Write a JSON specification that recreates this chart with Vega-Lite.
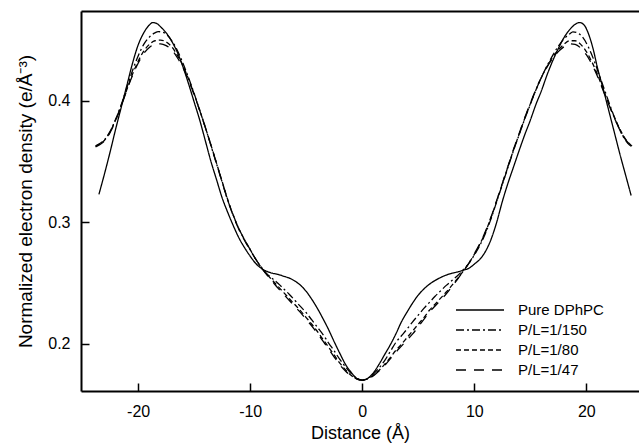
{
  "$schema": "https://vega.github.io/schema/vega-lite/v6.json",
  "width": 558,
  "height": 380,
  "autosize": {"type": "none"},
  "padding": {"left": 81, "top": 11, "right": 0, "bottom": 53},
  "background": "white",
  "config": {
    "view": {"stroke": null},
    "font": "Liberation Sans",
    "axis": {
      "grid": false,
      "domainColor": "black",
      "domainWidth": 2,
      "tickColor": "black",
      "tickWidth": 1.5,
      "tickSize": -8,
      "labelFont": "Liberation Sans",
      "labelFontSize": 16,
      "labelColor": "black",
      "titleFont": "Liberation Sans",
      "titleFontSize": 18,
      "titleFontWeight": "normal",
      "titleColor": "black"
    },
    "legend": {
      "labelFont": "Liberation Sans",
      "labelFontSize": 15,
      "labelColor": "black"
    }
  },
  "datasets": {
    "profiles": [
      {"s": "Pure DPhPC", "d": -23.5, "v": 0.323},
      {"s": "Pure DPhPC", "d": -23, "v": 0.340},
      {"s": "Pure DPhPC", "d": -22.5, "v": 0.358},
      {"s": "Pure DPhPC", "d": -22, "v": 0.377},
      {"s": "Pure DPhPC", "d": -21.5, "v": 0.395},
      {"s": "Pure DPhPC", "d": -21, "v": 0.413},
      {"s": "Pure DPhPC", "d": -20.5, "v": 0.431},
      {"s": "Pure DPhPC", "d": -20, "v": 0.446},
      {"s": "Pure DPhPC", "d": -19.5, "v": 0.456},
      {"s": "Pure DPhPC", "d": -19, "v": 0.4625},
      {"s": "Pure DPhPC", "d": -18.7, "v": 0.4645},
      {"s": "Pure DPhPC", "d": -18.3, "v": 0.4635},
      {"s": "Pure DPhPC", "d": -18, "v": 0.461},
      {"s": "Pure DPhPC", "d": -17.5, "v": 0.456},
      {"s": "Pure DPhPC", "d": -17, "v": 0.449},
      {"s": "Pure DPhPC", "d": -16.5, "v": 0.440},
      {"s": "Pure DPhPC", "d": -16, "v": 0.428},
      {"s": "Pure DPhPC", "d": -15.5, "v": 0.414},
      {"s": "Pure DPhPC", "d": -15, "v": 0.399},
      {"s": "Pure DPhPC", "d": -14.5, "v": 0.384},
      {"s": "Pure DPhPC", "d": -14, "v": 0.367},
      {"s": "Pure DPhPC", "d": -13.5, "v": 0.350},
      {"s": "Pure DPhPC", "d": -13, "v": 0.335},
      {"s": "Pure DPhPC", "d": -12.5, "v": 0.320},
      {"s": "Pure DPhPC", "d": -12, "v": 0.308},
      {"s": "Pure DPhPC", "d": -11.5, "v": 0.297},
      {"s": "Pure DPhPC", "d": -11, "v": 0.287},
      {"s": "Pure DPhPC", "d": -10.5, "v": 0.279},
      {"s": "Pure DPhPC", "d": -10, "v": 0.272},
      {"s": "Pure DPhPC", "d": -9.5, "v": 0.266},
      {"s": "Pure DPhPC", "d": -9, "v": 0.262},
      {"s": "Pure DPhPC", "d": -8.5, "v": 0.2595},
      {"s": "Pure DPhPC", "d": -8, "v": 0.258},
      {"s": "Pure DPhPC", "d": -7.5, "v": 0.257},
      {"s": "Pure DPhPC", "d": -7, "v": 0.2555},
      {"s": "Pure DPhPC", "d": -6.5, "v": 0.254},
      {"s": "Pure DPhPC", "d": -6, "v": 0.2515},
      {"s": "Pure DPhPC", "d": -5.5, "v": 0.248},
      {"s": "Pure DPhPC", "d": -5, "v": 0.243},
      {"s": "Pure DPhPC", "d": -4.5, "v": 0.2365},
      {"s": "Pure DPhPC", "d": -4, "v": 0.229},
      {"s": "Pure DPhPC", "d": -3.5, "v": 0.2205},
      {"s": "Pure DPhPC", "d": -3, "v": 0.2115},
      {"s": "Pure DPhPC", "d": -2.5, "v": 0.2015},
      {"s": "Pure DPhPC", "d": -2, "v": 0.192},
      {"s": "Pure DPhPC", "d": -1.5, "v": 0.183},
      {"s": "Pure DPhPC", "d": -1, "v": 0.1765},
      {"s": "Pure DPhPC", "d": -0.5, "v": 0.1715},
      {"s": "Pure DPhPC", "d": 0, "v": 0.170},
      {"s": "Pure DPhPC", "d": 0.5, "v": 0.1715},
      {"s": "Pure DPhPC", "d": 1, "v": 0.176},
      {"s": "Pure DPhPC", "d": 1.5, "v": 0.183},
      {"s": "Pure DPhPC", "d": 2, "v": 0.191},
      {"s": "Pure DPhPC", "d": 2.5, "v": 0.199},
      {"s": "Pure DPhPC", "d": 3, "v": 0.208},
      {"s": "Pure DPhPC", "d": 3.5, "v": 0.218},
      {"s": "Pure DPhPC", "d": 4, "v": 0.226},
      {"s": "Pure DPhPC", "d": 4.5, "v": 0.2335},
      {"s": "Pure DPhPC", "d": 5, "v": 0.240},
      {"s": "Pure DPhPC", "d": 5.5, "v": 0.245},
      {"s": "Pure DPhPC", "d": 6, "v": 0.249},
      {"s": "Pure DPhPC", "d": 6.5, "v": 0.252},
      {"s": "Pure DPhPC", "d": 7, "v": 0.2545},
      {"s": "Pure DPhPC", "d": 7.5, "v": 0.2565},
      {"s": "Pure DPhPC", "d": 8, "v": 0.258},
      {"s": "Pure DPhPC", "d": 8.5, "v": 0.259},
      {"s": "Pure DPhPC", "d": 9, "v": 0.2605},
      {"s": "Pure DPhPC", "d": 9.5, "v": 0.262},
      {"s": "Pure DPhPC", "d": 10, "v": 0.2655},
      {"s": "Pure DPhPC", "d": 10.5, "v": 0.2695},
      {"s": "Pure DPhPC", "d": 11, "v": 0.276},
      {"s": "Pure DPhPC", "d": 11.5, "v": 0.286},
      {"s": "Pure DPhPC", "d": 12, "v": 0.300},
      {"s": "Pure DPhPC", "d": 12.5, "v": 0.317},
      {"s": "Pure DPhPC", "d": 13, "v": 0.332},
      {"s": "Pure DPhPC", "d": 13.5, "v": 0.3455},
      {"s": "Pure DPhPC", "d": 14, "v": 0.359},
      {"s": "Pure DPhPC", "d": 14.5, "v": 0.372},
      {"s": "Pure DPhPC", "d": 15, "v": 0.384},
      {"s": "Pure DPhPC", "d": 15.5, "v": 0.397},
      {"s": "Pure DPhPC", "d": 16, "v": 0.4085},
      {"s": "Pure DPhPC", "d": 16.5, "v": 0.4215},
      {"s": "Pure DPhPC", "d": 17, "v": 0.433},
      {"s": "Pure DPhPC", "d": 17.5, "v": 0.443},
      {"s": "Pure DPhPC", "d": 18, "v": 0.452},
      {"s": "Pure DPhPC", "d": 18.5, "v": 0.4585},
      {"s": "Pure DPhPC", "d": 19, "v": 0.463},
      {"s": "Pure DPhPC", "d": 19.4, "v": 0.4645},
      {"s": "Pure DPhPC", "d": 19.8, "v": 0.4625},
      {"s": "Pure DPhPC", "d": 20.2, "v": 0.455},
      {"s": "Pure DPhPC", "d": 20.6, "v": 0.443},
      {"s": "Pure DPhPC", "d": 21, "v": 0.427},
      {"s": "Pure DPhPC", "d": 21.5, "v": 0.410},
      {"s": "Pure DPhPC", "d": 22, "v": 0.392},
      {"s": "Pure DPhPC", "d": 22.5, "v": 0.374},
      {"s": "Pure DPhPC", "d": 23, "v": 0.356},
      {"s": "Pure DPhPC", "d": 23.5, "v": 0.339},
      {"s": "Pure DPhPC", "d": 24, "v": 0.322},

      {"s": "P/L=1/150", "d": -23.8, "v": 0.363},
      {"s": "P/L=1/150", "d": -23.5, "v": 0.3645},
      {"s": "P/L=1/150", "d": -23, "v": 0.368},
      {"s": "P/L=1/150", "d": -22.5, "v": 0.375},
      {"s": "P/L=1/150", "d": -22, "v": 0.385},
      {"s": "P/L=1/150", "d": -21.5, "v": 0.397},
      {"s": "P/L=1/150", "d": -21, "v": 0.411},
      {"s": "P/L=1/150", "d": -20.5, "v": 0.425},
      {"s": "P/L=1/150", "d": -20, "v": 0.437},
      {"s": "P/L=1/150", "d": -19.5, "v": 0.4465},
      {"s": "P/L=1/150", "d": -19, "v": 0.4525},
      {"s": "P/L=1/150", "d": -18.5, "v": 0.456},
      {"s": "P/L=1/150", "d": -18.2, "v": 0.457},
      {"s": "P/L=1/150", "d": -17.8, "v": 0.4565},
      {"s": "P/L=1/150", "d": -17.5, "v": 0.455},
      {"s": "P/L=1/150", "d": -17, "v": 0.4495},
      {"s": "P/L=1/150", "d": -16.5, "v": 0.4415},
      {"s": "P/L=1/150", "d": -16, "v": 0.431},
      {"s": "P/L=1/150", "d": -15.5, "v": 0.419},
      {"s": "P/L=1/150", "d": -15, "v": 0.406},
      {"s": "P/L=1/150", "d": -14.5, "v": 0.392},
      {"s": "P/L=1/150", "d": -14, "v": 0.378},
      {"s": "P/L=1/150", "d": -13.5, "v": 0.363},
      {"s": "P/L=1/150", "d": -13, "v": 0.348},
      {"s": "P/L=1/150", "d": -12.5, "v": 0.333},
      {"s": "P/L=1/150", "d": -12, "v": 0.318},
      {"s": "P/L=1/150", "d": -11.5, "v": 0.3055},
      {"s": "P/L=1/150", "d": -11, "v": 0.2945},
      {"s": "P/L=1/150", "d": -10.5, "v": 0.2855},
      {"s": "P/L=1/150", "d": -10, "v": 0.2775},
      {"s": "P/L=1/150", "d": -9.5, "v": 0.2695},
      {"s": "P/L=1/150", "d": -9, "v": 0.263},
      {"s": "P/L=1/150", "d": -8.5, "v": 0.2575},
      {"s": "P/L=1/150", "d": -8, "v": 0.2535},
      {"s": "P/L=1/150", "d": -7.5, "v": 0.2495},
      {"s": "P/L=1/150", "d": -7, "v": 0.245},
      {"s": "P/L=1/150", "d": -6.5, "v": 0.2405},
      {"s": "P/L=1/150", "d": -6, "v": 0.2355},
      {"s": "P/L=1/150", "d": -5.5, "v": 0.2305},
      {"s": "P/L=1/150", "d": -5, "v": 0.2255},
      {"s": "P/L=1/150", "d": -4.5, "v": 0.2195},
      {"s": "P/L=1/150", "d": -4, "v": 0.2135},
      {"s": "P/L=1/150", "d": -3.5, "v": 0.2075},
      {"s": "P/L=1/150", "d": -3, "v": 0.2005},
      {"s": "P/L=1/150", "d": -2.5, "v": 0.194},
      {"s": "P/L=1/150", "d": -2, "v": 0.187},
      {"s": "P/L=1/150", "d": -1.5, "v": 0.181},
      {"s": "P/L=1/150", "d": -1, "v": 0.1755},
      {"s": "P/L=1/150", "d": -0.5, "v": 0.1715},
      {"s": "P/L=1/150", "d": 0, "v": 0.170},
      {"s": "P/L=1/150", "d": 0.5, "v": 0.1715},
      {"s": "P/L=1/150", "d": 1, "v": 0.175},
      {"s": "P/L=1/150", "d": 1.5, "v": 0.180},
      {"s": "P/L=1/150", "d": 2, "v": 0.186},
      {"s": "P/L=1/150", "d": 2.5, "v": 0.1935},
      {"s": "P/L=1/150", "d": 3, "v": 0.201},
      {"s": "P/L=1/150", "d": 3.5, "v": 0.2065},
      {"s": "P/L=1/150", "d": 4, "v": 0.212},
      {"s": "P/L=1/150", "d": 4.5, "v": 0.218},
      {"s": "P/L=1/150", "d": 5, "v": 0.2235},
      {"s": "P/L=1/150", "d": 5.5, "v": 0.229},
      {"s": "P/L=1/150", "d": 6, "v": 0.234},
      {"s": "P/L=1/150", "d": 6.5, "v": 0.239},
      {"s": "P/L=1/150", "d": 7, "v": 0.2435},
      {"s": "P/L=1/150", "d": 7.5, "v": 0.248},
      {"s": "P/L=1/150", "d": 8, "v": 0.252},
      {"s": "P/L=1/150", "d": 8.5, "v": 0.256},
      {"s": "P/L=1/150", "d": 9, "v": 0.2605},
      {"s": "P/L=1/150", "d": 9.5, "v": 0.266},
      {"s": "P/L=1/150", "d": 10, "v": 0.273},
      {"s": "P/L=1/150", "d": 10.5, "v": 0.281},
      {"s": "P/L=1/150", "d": 11, "v": 0.291},
      {"s": "P/L=1/150", "d": 11.5, "v": 0.303},
      {"s": "P/L=1/150", "d": 12, "v": 0.317},
      {"s": "P/L=1/150", "d": 12.5, "v": 0.331},
      {"s": "P/L=1/150", "d": 13, "v": 0.345},
      {"s": "P/L=1/150", "d": 13.5, "v": 0.359},
      {"s": "P/L=1/150", "d": 14, "v": 0.372},
      {"s": "P/L=1/150", "d": 14.5, "v": 0.385},
      {"s": "P/L=1/150", "d": 15, "v": 0.397},
      {"s": "P/L=1/150", "d": 15.5, "v": 0.409},
      {"s": "P/L=1/150", "d": 16, "v": 0.4195},
      {"s": "P/L=1/150", "d": 16.5, "v": 0.429},
      {"s": "P/L=1/150", "d": 17, "v": 0.4375},
      {"s": "P/L=1/150", "d": 17.5, "v": 0.445},
      {"s": "P/L=1/150", "d": 18, "v": 0.451},
      {"s": "P/L=1/150", "d": 18.5, "v": 0.455},
      {"s": "P/L=1/150", "d": 18.8, "v": 0.4568},
      {"s": "P/L=1/150", "d": 19.2, "v": 0.456},
      {"s": "P/L=1/150", "d": 19.7, "v": 0.452},
      {"s": "P/L=1/150", "d": 20.2, "v": 0.444},
      {"s": "P/L=1/150", "d": 20.7, "v": 0.433},
      {"s": "P/L=1/150", "d": 21.2, "v": 0.420},
      {"s": "P/L=1/150", "d": 21.7, "v": 0.407},
      {"s": "P/L=1/150", "d": 22.2, "v": 0.394},
      {"s": "P/L=1/150", "d": 22.7, "v": 0.382},
      {"s": "P/L=1/150", "d": 23.2, "v": 0.372},
      {"s": "P/L=1/150", "d": 23.7, "v": 0.365},
      {"s": "P/L=1/150", "d": 24.1, "v": 0.362},

      {"s": "P/L=1/80", "d": -23.8, "v": 0.3625},
      {"s": "P/L=1/80", "d": -23.5, "v": 0.364},
      {"s": "P/L=1/80", "d": -23, "v": 0.3675},
      {"s": "P/L=1/80", "d": -22.5, "v": 0.3745},
      {"s": "P/L=1/80", "d": -22, "v": 0.3845},
      {"s": "P/L=1/80", "d": -21.5, "v": 0.3965},
      {"s": "P/L=1/80", "d": -21, "v": 0.4095},
      {"s": "P/L=1/80", "d": -20.5, "v": 0.422},
      {"s": "P/L=1/80", "d": -20, "v": 0.4325},
      {"s": "P/L=1/80", "d": -19.5, "v": 0.441},
      {"s": "P/L=1/80", "d": -19, "v": 0.4465},
      {"s": "P/L=1/80", "d": -18.5, "v": 0.4495},
      {"s": "P/L=1/80", "d": -18, "v": 0.450},
      {"s": "P/L=1/80", "d": -17.5, "v": 0.4485},
      {"s": "P/L=1/80", "d": -17, "v": 0.4445},
      {"s": "P/L=1/80", "d": -16.5, "v": 0.4375},
      {"s": "P/L=1/80", "d": -16, "v": 0.429},
      {"s": "P/L=1/80", "d": -15.5, "v": 0.418},
      {"s": "P/L=1/80", "d": -15, "v": 0.4055},
      {"s": "P/L=1/80", "d": -14.5, "v": 0.392},
      {"s": "P/L=1/80", "d": -14, "v": 0.378},
      {"s": "P/L=1/80", "d": -13.5, "v": 0.3635},
      {"s": "P/L=1/80", "d": -13, "v": 0.3485},
      {"s": "P/L=1/80", "d": -12.5, "v": 0.3335},
      {"s": "P/L=1/80", "d": -12, "v": 0.3185},
      {"s": "P/L=1/80", "d": -11.5, "v": 0.3055},
      {"s": "P/L=1/80", "d": -11, "v": 0.2945},
      {"s": "P/L=1/80", "d": -10.5, "v": 0.2855},
      {"s": "P/L=1/80", "d": -10, "v": 0.2775},
      {"s": "P/L=1/80", "d": -9.5, "v": 0.2695},
      {"s": "P/L=1/80", "d": -9, "v": 0.2625},
      {"s": "P/L=1/80", "d": -8.5, "v": 0.257},
      {"s": "P/L=1/80", "d": -8, "v": 0.252},
      {"s": "P/L=1/80", "d": -7.5, "v": 0.247},
      {"s": "P/L=1/80", "d": -7, "v": 0.242},
      {"s": "P/L=1/80", "d": -6.5, "v": 0.237},
      {"s": "P/L=1/80", "d": -6, "v": 0.232},
      {"s": "P/L=1/80", "d": -5.5, "v": 0.227},
      {"s": "P/L=1/80", "d": -5, "v": 0.2215},
      {"s": "P/L=1/80", "d": -4.5, "v": 0.216},
      {"s": "P/L=1/80", "d": -4, "v": 0.210},
      {"s": "P/L=1/80", "d": -3.5, "v": 0.2035},
      {"s": "P/L=1/80", "d": -3, "v": 0.197},
      {"s": "P/L=1/80", "d": -2.5, "v": 0.1905},
      {"s": "P/L=1/80", "d": -2, "v": 0.184},
      {"s": "P/L=1/80", "d": -1.5, "v": 0.1785},
      {"s": "P/L=1/80", "d": -1, "v": 0.174},
      {"s": "P/L=1/80", "d": -0.5, "v": 0.171},
      {"s": "P/L=1/80", "d": 0, "v": 0.170},
      {"s": "P/L=1/80", "d": 0.5, "v": 0.171},
      {"s": "P/L=1/80", "d": 1, "v": 0.174},
      {"s": "P/L=1/80", "d": 1.5, "v": 0.178},
      {"s": "P/L=1/80", "d": 2, "v": 0.183},
      {"s": "P/L=1/80", "d": 2.5, "v": 0.1885},
      {"s": "P/L=1/80", "d": 3, "v": 0.1945},
      {"s": "P/L=1/80", "d": 3.5, "v": 0.1995},
      {"s": "P/L=1/80", "d": 4, "v": 0.205},
      {"s": "P/L=1/80", "d": 4.5, "v": 0.2105},
      {"s": "P/L=1/80", "d": 5, "v": 0.216},
      {"s": "P/L=1/80", "d": 5.5, "v": 0.2215},
      {"s": "P/L=1/80", "d": 6, "v": 0.2275},
      {"s": "P/L=1/80", "d": 6.5, "v": 0.2325},
      {"s": "P/L=1/80", "d": 7, "v": 0.2375},
      {"s": "P/L=1/80", "d": 7.5, "v": 0.2425},
      {"s": "P/L=1/80", "d": 8, "v": 0.248},
      {"s": "P/L=1/80", "d": 8.5, "v": 0.2535},
      {"s": "P/L=1/80", "d": 9, "v": 0.2595},
      {"s": "P/L=1/80", "d": 9.5, "v": 0.266},
      {"s": "P/L=1/80", "d": 10, "v": 0.2735},
      {"s": "P/L=1/80", "d": 10.5, "v": 0.282},
      {"s": "P/L=1/80", "d": 11, "v": 0.292},
      {"s": "P/L=1/80", "d": 11.5, "v": 0.304},
      {"s": "P/L=1/80", "d": 12, "v": 0.3175},
      {"s": "P/L=1/80", "d": 12.5, "v": 0.3315},
      {"s": "P/L=1/80", "d": 13, "v": 0.3455},
      {"s": "P/L=1/80", "d": 13.5, "v": 0.3595},
      {"s": "P/L=1/80", "d": 14, "v": 0.3725},
      {"s": "P/L=1/80", "d": 14.5, "v": 0.3855},
      {"s": "P/L=1/80", "d": 15, "v": 0.3975},
      {"s": "P/L=1/80", "d": 15.5, "v": 0.409},
      {"s": "P/L=1/80", "d": 16, "v": 0.4195},
      {"s": "P/L=1/80", "d": 16.5, "v": 0.4285},
      {"s": "P/L=1/80", "d": 17, "v": 0.436},
      {"s": "P/L=1/80", "d": 17.5, "v": 0.442},
      {"s": "P/L=1/80", "d": 18, "v": 0.4465},
      {"s": "P/L=1/80", "d": 18.5, "v": 0.4495},
      {"s": "P/L=1/80", "d": 19, "v": 0.4495},
      {"s": "P/L=1/80", "d": 19.5, "v": 0.4465},
      {"s": "P/L=1/80", "d": 20, "v": 0.4405},
      {"s": "P/L=1/80", "d": 20.5, "v": 0.432},
      {"s": "P/L=1/80", "d": 21, "v": 0.4215},
      {"s": "P/L=1/80", "d": 21.5, "v": 0.4095},
      {"s": "P/L=1/80", "d": 22, "v": 0.3975},
      {"s": "P/L=1/80", "d": 22.5, "v": 0.3865},
      {"s": "P/L=1/80", "d": 23, "v": 0.3765},
      {"s": "P/L=1/80", "d": 23.5, "v": 0.3685},
      {"s": "P/L=1/80", "d": 24.1, "v": 0.3625},

      {"s": "P/L=1/47", "d": -23.8, "v": 0.362},
      {"s": "P/L=1/47", "d": -23.5, "v": 0.3635},
      {"s": "P/L=1/47", "d": -23, "v": 0.367},
      {"s": "P/L=1/47", "d": -22.5, "v": 0.374},
      {"s": "P/L=1/47", "d": -22, "v": 0.384},
      {"s": "P/L=1/47", "d": -21.5, "v": 0.396},
      {"s": "P/L=1/47", "d": -21, "v": 0.409},
      {"s": "P/L=1/47", "d": -20.5, "v": 0.421},
      {"s": "P/L=1/47", "d": -20, "v": 0.431},
      {"s": "P/L=1/47", "d": -19.5, "v": 0.439},
      {"s": "P/L=1/47", "d": -19, "v": 0.444},
      {"s": "P/L=1/47", "d": -18.5, "v": 0.4465},
      {"s": "P/L=1/47", "d": -18, "v": 0.447},
      {"s": "P/L=1/47", "d": -17.5, "v": 0.4455},
      {"s": "P/L=1/47", "d": -17, "v": 0.442},
      {"s": "P/L=1/47", "d": -16.5, "v": 0.4355},
      {"s": "P/L=1/47", "d": -16, "v": 0.4275},
      {"s": "P/L=1/47", "d": -15.5, "v": 0.417},
      {"s": "P/L=1/47", "d": -15, "v": 0.405},
      {"s": "P/L=1/47", "d": -14.5, "v": 0.392},
      {"s": "P/L=1/47", "d": -14, "v": 0.378},
      {"s": "P/L=1/47", "d": -13.5, "v": 0.3635},
      {"s": "P/L=1/47", "d": -13, "v": 0.3485},
      {"s": "P/L=1/47", "d": -12.5, "v": 0.333},
      {"s": "P/L=1/47", "d": -12, "v": 0.318},
      {"s": "P/L=1/47", "d": -11.5, "v": 0.305},
      {"s": "P/L=1/47", "d": -11, "v": 0.294},
      {"s": "P/L=1/47", "d": -10.5, "v": 0.285},
      {"s": "P/L=1/47", "d": -10, "v": 0.277},
      {"s": "P/L=1/47", "d": -9.5, "v": 0.2695},
      {"s": "P/L=1/47", "d": -9, "v": 0.2625},
      {"s": "P/L=1/47", "d": -8.5, "v": 0.2565},
      {"s": "P/L=1/47", "d": -8, "v": 0.251},
      {"s": "P/L=1/47", "d": -7.5, "v": 0.2455},
      {"s": "P/L=1/47", "d": -7, "v": 0.2405},
      {"s": "P/L=1/47", "d": -6.5, "v": 0.2355},
      {"s": "P/L=1/47", "d": -6, "v": 0.2305},
      {"s": "P/L=1/47", "d": -5.5, "v": 0.2255},
      {"s": "P/L=1/47", "d": -5, "v": 0.220},
      {"s": "P/L=1/47", "d": -4.5, "v": 0.2145},
      {"s": "P/L=1/47", "d": -4, "v": 0.2085},
      {"s": "P/L=1/47", "d": -3.5, "v": 0.202},
      {"s": "P/L=1/47", "d": -3, "v": 0.1955},
      {"s": "P/L=1/47", "d": -2.5, "v": 0.189},
      {"s": "P/L=1/47", "d": -2, "v": 0.1825},
      {"s": "P/L=1/47", "d": -1.5, "v": 0.1775},
      {"s": "P/L=1/47", "d": -1, "v": 0.1735},
      {"s": "P/L=1/47", "d": -0.5, "v": 0.171},
      {"s": "P/L=1/47", "d": 0, "v": 0.170},
      {"s": "P/L=1/47", "d": 0.5, "v": 0.171},
      {"s": "P/L=1/47", "d": 1, "v": 0.1735},
      {"s": "P/L=1/47", "d": 1.5, "v": 0.1775},
      {"s": "P/L=1/47", "d": 2, "v": 0.182},
      {"s": "P/L=1/47", "d": 2.5, "v": 0.1875},
      {"s": "P/L=1/47", "d": 3, "v": 0.193},
      {"s": "P/L=1/47", "d": 3.5, "v": 0.198},
      {"s": "P/L=1/47", "d": 4, "v": 0.203},
      {"s": "P/L=1/47", "d": 4.5, "v": 0.208},
      {"s": "P/L=1/47", "d": 5, "v": 0.214},
      {"s": "P/L=1/47", "d": 5.5, "v": 0.220},
      {"s": "P/L=1/47", "d": 6, "v": 0.226},
      {"s": "P/L=1/47", "d": 6.5, "v": 0.231},
      {"s": "P/L=1/47", "d": 7, "v": 0.236},
      {"s": "P/L=1/47", "d": 7.5, "v": 0.241},
      {"s": "P/L=1/47", "d": 8, "v": 0.247},
      {"s": "P/L=1/47", "d": 8.5, "v": 0.253},
      {"s": "P/L=1/47", "d": 9, "v": 0.2595},
      {"s": "P/L=1/47", "d": 9.5, "v": 0.266},
      {"s": "P/L=1/47", "d": 10, "v": 0.274},
      {"s": "P/L=1/47", "d": 10.5, "v": 0.2825},
      {"s": "P/L=1/47", "d": 11, "v": 0.2925},
      {"s": "P/L=1/47", "d": 11.5, "v": 0.3045},
      {"s": "P/L=1/47", "d": 12, "v": 0.318},
      {"s": "P/L=1/47", "d": 12.5, "v": 0.332},
      {"s": "P/L=1/47", "d": 13, "v": 0.346},
      {"s": "P/L=1/47", "d": 13.5, "v": 0.360},
      {"s": "P/L=1/47", "d": 14, "v": 0.373},
      {"s": "P/L=1/47", "d": 14.5, "v": 0.386},
      {"s": "P/L=1/47", "d": 15, "v": 0.398},
      {"s": "P/L=1/47", "d": 15.5, "v": 0.4095},
      {"s": "P/L=1/47", "d": 16, "v": 0.4195},
      {"s": "P/L=1/47", "d": 16.5, "v": 0.428},
      {"s": "P/L=1/47", "d": 17, "v": 0.435},
      {"s": "P/L=1/47", "d": 17.5, "v": 0.4405},
      {"s": "P/L=1/47", "d": 18, "v": 0.4445},
      {"s": "P/L=1/47", "d": 18.5, "v": 0.447},
      {"s": "P/L=1/47", "d": 19, "v": 0.4465},
      {"s": "P/L=1/47", "d": 19.5, "v": 0.4435},
      {"s": "P/L=1/47", "d": 20, "v": 0.438},
      {"s": "P/L=1/47", "d": 20.5, "v": 0.430},
      {"s": "P/L=1/47", "d": 21, "v": 0.420},
      {"s": "P/L=1/47", "d": 21.5, "v": 0.4085},
      {"s": "P/L=1/47", "d": 22, "v": 0.397},
      {"s": "P/L=1/47", "d": 22.5, "v": 0.386},
      {"s": "P/L=1/47", "d": 23, "v": 0.376},
      {"s": "P/L=1/47", "d": 23.5, "v": 0.368},
      {"s": "P/L=1/47", "d": 24.1, "v": 0.3625}
    ]
  },
  "data": {"name": "profiles"},
  "layer": [
    {
      "mark": {"type": "line", "color": "black", "strokeWidth": 1.3, "interpolate": "monotone"},
      "encoding": {
        "x": {
          "field": "d", "type": "quantitative",
          "scale": {"domain": [-25.1, 24.7], "nice": false, "zero": false},
          "axis": {"values": [-20, -10, 0, 10, 20], "labelExpr": "'' + datum.value", "title": "Distance (Å)", "labelPadding": 20, "titlePadding": 5}
        },
        "y": {
          "field": "v", "type": "quantitative",
          "scale": {"domain": [0.161, 0.474], "nice": false, "zero": false},
          "axis": {"values": [0.2, 0.3, 0.4], "format": ".1f", "title": "Normalized electron density (e/Å⁻³)", "titleFontSize": 19, "labelPadding": 19, "titlePadding": 12}
        },
        "strokeDash": {
          "field": "s", "type": "nominal",
          "scale": {
            "domain": ["Pure DPhPC", "P/L=1/150", "P/L=1/80", "P/L=1/47"],
            "range": [[1, 0], [8, 3, 2, 3], [5, 3], [10, 8]]
          },
          "legend": {
            "title": null,
            "orient": "none",
            "legendX": 390,
            "legendY": 290,
            "padding": 0,
            "symbolType": "M-3,0H3",
            "symbolSize": 256,
            "symbolStrokeWidth": 1.3,
            "symbolStrokeColor": "black",
            "symbolFillColor": "transparent",
            "labelOffset": 29,
            "rowPadding": 3
          }
        }
      }
    },
    {
      "mark": {"type": "line", "strokeOpacity": 0},
      "encoding": {
        "x": {
          "field": "d", "type": "quantitative",
          "axis": {"orient": "top", "labels": false, "ticks": false, "title": null, "domainWidth": 2}
        },
        "y": {"field": "v", "type": "quantitative"},
        "detail": {"field": "s", "type": "nominal"}
      }
    }
  ],
  "resolve": {"axis": {"x": "independent"}}
}
